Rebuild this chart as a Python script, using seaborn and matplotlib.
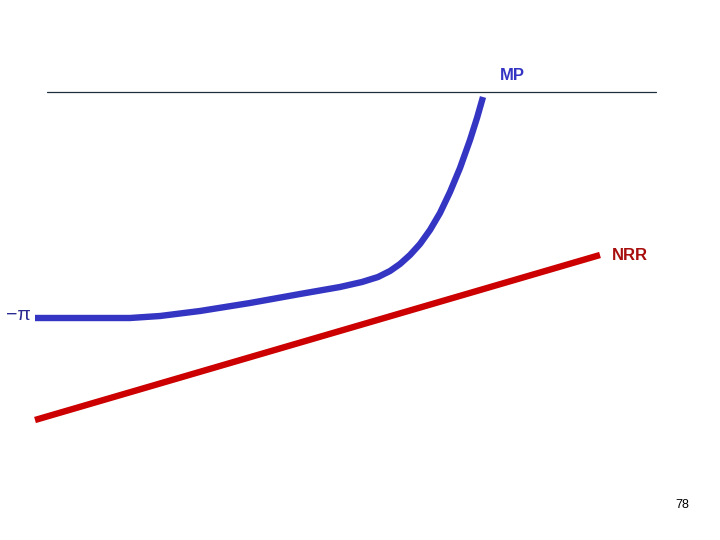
import matplotlib
matplotlib.use("Agg")
import matplotlib.pyplot as plt
import numpy as np
import pandas as pd
import seaborn as sns

# curve values (x right, y up, units of the 720x540 canvas)
mp_x = [35, 130, 160, 200, 250, 300, 340, 362, 378, 390, 400, 410, 420, 430, 440, 450, 460, 470, 477, 483]
mp_y = [222, 222, 224, 229, 237, 246, 253, 258, 263, 269, 276, 285, 296, 310, 327, 348, 372, 400, 422, 443]
nrr_x = [35, 600]
nrr_y = [120, 285]
ref_x = [47, 656]
ref_y = [448, 448]

sns.set_style("white")
plt.rcParams["font.family"] = ["Liberation Sans", "DejaVu Sans"]

fig = plt.figure(figsize=(7.2, 5.4), dpi=100)
ax = fig.add_axes([0, 0, 1, 1])

mp = pd.DataFrame({"x": mp_x, "y": mp_y})
nrr = pd.DataFrame({"x": nrr_x, "y": nrr_y})

ax.plot(ref_x, ref_y, color="#1c2f3a", lw=0.9)
sns.lineplot(data=mp, x="x", y="y", sort=False, color="#3535c4", lw=4.6,
             solid_capstyle="butt", solid_joinstyle="round", ax=ax)
sns.lineplot(data=nrr, x="x", y="y", sort=False, color="#cc0000", lw=4.6,
             solid_capstyle="butt", ax=ax)

ax.text(512, 465, "MP", color="#3535c4", fontsize=12, fontweight="bold",
        ha="center", va="center")
ax.text(612, 285, "NRR", color="#a80e0e", fontsize=12, fontweight="bold",
        ha="left", va="center")
ax.text(31, 225, "−π", color="#2a2a90", fontsize=14,
        ha="right", va="center")
ax.text(682, 35, "78", color="black", fontsize=9, ha="center", va="center")

ax.set_xlim(0, 720)
ax.set_ylim(0, 540)
ax.set_axis_off()

fig.savefig("out.png", dpi=100)
